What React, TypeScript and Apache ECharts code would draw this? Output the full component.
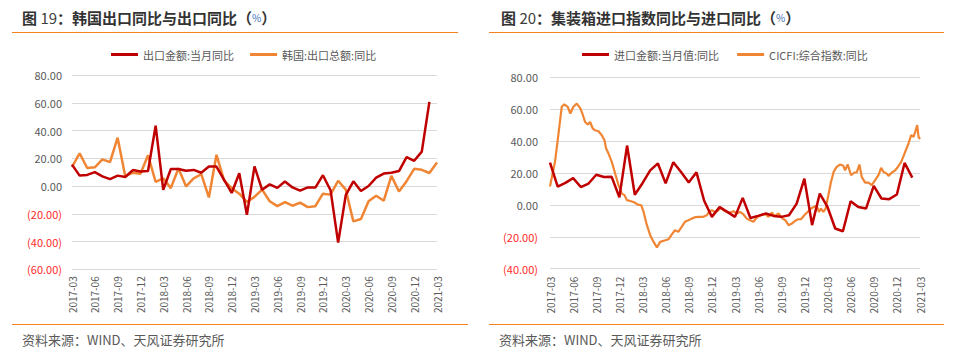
import React, { useEffect, useRef } from "react";
import * as echarts from "echarts";

const FONT = '"Noto Sans CJK SC", "Noto Sans", sans-serif';

const months = [
  "2017-03", "2017-04", "2017-05", "2017-06", "2017-07", "2017-08", "2017-09", "2017-10", "2017-11", "2017-12",
  "2018-01", "2018-02", "2018-03", "2018-04", "2018-05", "2018-06", "2018-07", "2018-08", "2018-09", "2018-10",
  "2018-11", "2018-12", "2019-01", "2019-02", "2019-03", "2019-04", "2019-05", "2019-06", "2019-07", "2019-08",
  "2019-09", "2019-10", "2019-11", "2019-12", "2020-01", "2020-02", "2020-03", "2020-04", "2020-05", "2020-06",
  "2020-07", "2020-08", "2020-09", "2020-10", "2020-11", "2020-12", "2021-01", "2021-02", "2021-03",
];

// Left chart: China export YoY (monthly) and Korea export YoY (monthly)
const chinaExportYoY = [
  15.4, 7.5, 8, 10, 7, 5, 7.5, 6.5, 11.5, 10.5,
  10.8, 43.5, -2.7, 12.3, 12.3, 11, 11.6, 9.6, 14, 14,
  4.5, -5, 9.2, -20.8, 14.2, -2.7, 1.2, -1.3, 3.3, -1,
  -3.3, -1, -1.1, 7.8, -3, -40.8, -6.6, 3.4, -3.6, 0, 6,
  9, 9.6, 10.8, 20.8, 18.2, 24.8, 60.6,
];
const koreaExportYoY = [
  13.7, 23.6, 13, 13.5, 19.2, 17.2, 34.8, 7, 9.6, 8.8,
  22.2, 3, 5.5, -1.5, 12.8, -0.3, 5.5, 8.5, -8.2, 22.5,
  4, -1.6, -5.5, -11.4, -7.8, -2.6, -11, -14.5, -11.6, -14.2,
  -12, -15.2, -14.5, -5.5, -6.2, 3.8, -2.6, -25.5, -23.8, -11,
  -7, -10.6, 7.3, -3.9, 3.5, 12.4, 11.7, 9.4, 17,
];

// Right chart: China import YoY (monthly, index = months since 2017-03)
const chinaImportYoY = [
  26.5, 11.4, 13.8, 16.8, 11.2, 13.4, 18.9, 17.5, 17.6, 4.8,
  37.2, 6.4, 13.6, 21.6, 26, 13.5, 26.8, 20.6, 14.1, 20.4,
  2.6, -7.5, -1.3, -4.4, -7.5, 4.4, -8.2, -6.9, -5.4, -6.9,
  -7.5, -6.5, 0.8, 16.5, -12.7, 7.1, -1.3, -14.8, -16.5, 2.3,
  -1.3, -2.3, 11.9, 4, 3.6, 6.5, 26.3, 17.1,
];

// Right chart: CICFI composite index YoY (weekly, position in months since 2017-03)
const cicfiT = [
  0, 0.65, 1.08, 1.52, 1.86, 2.3, 2.64, 3.03, 3.47, 3.9,
  4.2, 4.55, 4.9, 5.2, 5.55, 5.85, 6.29, 6.72, 7.07, 7.28,
  7.59, 8.02, 8.45, 8.89, 9.32, 9.67, 9.97, 10.53, 10.97, 11.4,
  11.83, 12.14, 12.57, 13.0, 13.44, 13.87, 14.3, 14.95, 15.39, 15.78,
  16.21, 16.65, 17.08, 17.51, 17.95, 18.38, 18.81, 19.46, 19.9, 20.33,
  20.63, 20.98, 21.42, 21.85, 22.2, 22.5, 22.93, 23.36, 23.8, 24.23,
  24.66, 25.1, 25.53, 25.96, 26.4, 26.7, 27.13, 27.57, 28.0, 28.35,
  28.78, 29.13, 29.65, 30.17, 30.52, 30.95, 31.38, 31.8, 32.21, 32.56,
  32.99, 33.42, 33.86, 34.29, 34.59, 34.89, 35.15, 35.46, 35.76, 36.11,
  36.45, 36.8, 37.19, 37.62, 38.06, 38.28, 38.62, 39.06, 39.49, 39.79,
  40.14, 40.44, 40.88, 41.31, 41.74, 42.18, 42.61, 42.96, 43.26, 43.69,
  43.91, 44.35, 44.78, 45.13, 45.56, 45.99, 46.51, 46.86, 47.16, 47.38,
  47.64, 47.81, 48.0,
];
const cicfiYoY = [
  11.5, 27, 43.7, 61.5, 63, 61.5, 57.3, 61.5, 63.5, 60.8,
  57.3, 52, 50.4, 52, 47.9, 46.8, 46.2, 43.7, 40.5, 35.3,
  32.2, 27, 19.7, 12.4, 7.1, 6.1, 3, 2.3, 1.5, 0.2,
  -0.2, -4.4, -12.7, -19, -23.2, -26.6, -23.2, -22.2, -21.5, -18.6,
  -15.9, -16.9, -13.8, -10.6, -9.6, -8.6, -7.7, -7.5, -7.5, -6.5,
  -4.4, -3.3, -4.4, -3.3, -1.9, -3.3, -4.4, -4.8, -4, -5.4,
  -4.4, -6, -8.6, -9.6, -10.6, -8.6, -6.9, -6, -6, -7.5,
  -4.8, -6.9, -5.4, -8.6, -9.6, -12.7, -11.7, -10, -9, -9,
  -6.5, -4.4, -2.3, -1.2, -0.6, -4.4, -2.3, -4.4, -2.3, 6.1,
  14.4, 20.7, 23.8, 25.3, 24.5, 21.7, 25.3, 18.6, 20.3, 20.3,
  25.3, 17.6, 14, 14, 12.4, 15.5, 18.6, 23.2, 20.7, 19.6,
  18.2, 20.3, 21.7, 23.8, 27, 32.2, 38.5, 43.7, 42.6, 45.8,
  50, 42.6, 41.2,
];

const RED = "#C00000";
const ORANGE = "#F08534";
const GREY = "#595959";
const GRIDLINE = "#D9D9D9";
const RULE = "#F5821F";

const yLabel = {
  fontSize: 11,
  margin: 10,
  formatter: (v: number) =>
    v < 0 ? `{n|(${Math.abs(v).toFixed(2)})}` : `{p|${v.toFixed(2)}}`,
  rich: {
    n: { color: "#FF2A2A", fontSize: 11, fontFamily: FONT },
    p: { color: GREY, fontSize: 11, fontFamily: FONT },
  },
};

const titleRich = {
  a: { fontSize: 15, fontWeight: "bold", color: "#333333", fontFamily: FONT },
  b: { fontSize: 15, fontWeight: "normal", color: "#404040", fontFamily: FONT },
  c: { fontSize: 10, fontWeight: "normal", color: "#3F6FB5", fontFamily: FONT },
};

export default function App() {
  const ref = useRef<HTMLDivElement>(null);

  useEffect(() => {
    if (!ref.current) return;
    const chart = echarts.init(ref.current, undefined, { renderer: "svg" });

    const option: any = {
      animation: false,
      backgroundColor: "#ffffff",
      textStyle: { fontFamily: FONT },
      title: [
        {
          text: "{a|图 }{b|19}{a|：韩国出口同比与出口同比（}{c|%}{a|）}",
          left: 17,
          top: 5,
          textStyle: { rich: titleRich },
        },
        {
          text: "{a|图 }{b|20}{a|：集装箱进口指数同比与进口同比（}{c|%}{a|）}",
          left: 496,
          top: 5,
          textStyle: { rich: titleRich },
        },
      ],
      legend: [
        {
          data: ["出口金额:当月同比", "韩国:出口总额:同比"],
          left: 106,
          top: 44,
          icon: "rect",
          itemWidth: 27,
          itemHeight: 3,
          itemGap: 16,
          textStyle: { fontSize: 11, color: GREY, fontFamily: FONT },
        },
        {
          data: ["进口金额:当月值:同比", "CICFI:综合指数:同比"],
          left: 577,
          top: 44,
          icon: "rect",
          itemWidth: 27,
          itemHeight: 3,
          itemGap: 18,
          textStyle: { fontSize: 11, color: GREY, fontFamily: FONT },
        },
      ],
      grid: [
        { left: 72, right: 525, top: 75, bottom: 84.7 },
        { left: 550, right: 42, top: 77.3, bottom: 85.3 },
      ],
      xAxis: [
        {
          gridIndex: 0,
          type: "category",
          data: months,
          boundaryGap: false,
          axisLine: { show: false },
          axisTick: { show: false },
          splitLine: { show: false },
          axisLabel: { interval: 2, rotate: 90, fontSize: 10, color: GREY, margin: 7 },
        },
        {
          gridIndex: 1,
          type: "value",
          min: 0,
          max: 48,
          interval: 3,
          axisLine: { show: false },
          axisTick: { show: false },
          splitLine: { show: false },
          axisLabel: {
            rotate: 90,
            fontSize: 10,
            color: GREY,
            margin: 8,
            formatter: (v: number) => months[Math.round(v)] ?? "",
          },
        },
      ],
      yAxis: [
        {
          gridIndex: 0,
          type: "value",
          min: -60,
          max: 80,
          interval: 20,
          axisLine: { show: false },
          axisTick: { show: false },
          splitLine: { lineStyle: { color: GRIDLINE, width: 1 } },
          axisLabel: yLabel,
        },
        {
          gridIndex: 1,
          type: "value",
          min: -40,
          max: 80,
          interval: 20,
          axisLine: { show: false },
          axisTick: { show: false },
          splitLine: { lineStyle: { color: GRIDLINE, width: 1 } },
          axisLabel: { ...yLabel, margin: 12 },
        },
      ],
      series: [
        {
          name: "出口金额:当月同比",
          type: "line",
          xAxisIndex: 0,
          yAxisIndex: 0,
          data: chinaExportYoY,
          showSymbol: false,
          symbol: "none",
          color: RED,
          lineStyle: { color: RED, width: 2.5 },
          z: 3,
        },
        {
          name: "韩国:出口总额:同比",
          type: "line",
          xAxisIndex: 0,
          yAxisIndex: 0,
          data: koreaExportYoY,
          showSymbol: false,
          symbol: "none",
          color: ORANGE,
          lineStyle: { color: ORANGE, width: 2.5 },
          z: 2,
        },
        {
          name: "进口金额:当月值:同比",
          type: "line",
          xAxisIndex: 1,
          yAxisIndex: 1,
          data: chinaImportYoY.map((v, i) => [i, v]),
          showSymbol: false,
          symbol: "none",
          color: RED,
          lineStyle: { color: RED, width: 2.5 },
          z: 3,
        },
        {
          name: "CICFI:综合指数:同比",
          type: "line",
          xAxisIndex: 1,
          yAxisIndex: 1,
          data: cicfiT.map((t, i) => [t, cicfiYoY[i]]),
          showSymbol: false,
          symbol: "none",
          color: ORANGE,
          lineStyle: { color: ORANGE, width: 2.2 },
          z: 2,
        },
      ],
      graphic: [
        { type: "line", shape: { x1: 12, y1: 32.5, x2: 458, y2: 32.5 }, style: { stroke: RULE, lineWidth: 1 } },
        { type: "line", shape: { x1: 489, y1: 32.5, x2: 944, y2: 32.5 }, style: { stroke: RULE, lineWidth: 1 } },
        { type: "line", shape: { x1: 12, y1: 324.5, x2: 468, y2: 324.5 }, style: { stroke: RULE, lineWidth: 1 } },
        { type: "line", shape: { x1: 489, y1: 324.5, x2: 944, y2: 324.5 }, style: { stroke: RULE, lineWidth: 1 } },
        {
          type: "text",
          x: 22,
          y: 339,
          style: { text: "资料来源：WIND、天风证券研究所", fill: GREY, font: `13px ${FONT}`, verticalAlign: "middle" },
        },
        {
          type: "text",
          x: 499,
          y: 339,
          style: { text: "资料来源：WIND、天风证券研究所", fill: GREY, font: `13px ${FONT}`, verticalAlign: "middle" },
        },
      ],
    };

    chart.setOption(option);
    return () => chart.dispose();
  }, []);

  return (
    <div
      ref={ref}
      style={{ position: "absolute", left: 0, top: 0, width: 962, height: 354, background: "#fff" }}
    />
  );
}
